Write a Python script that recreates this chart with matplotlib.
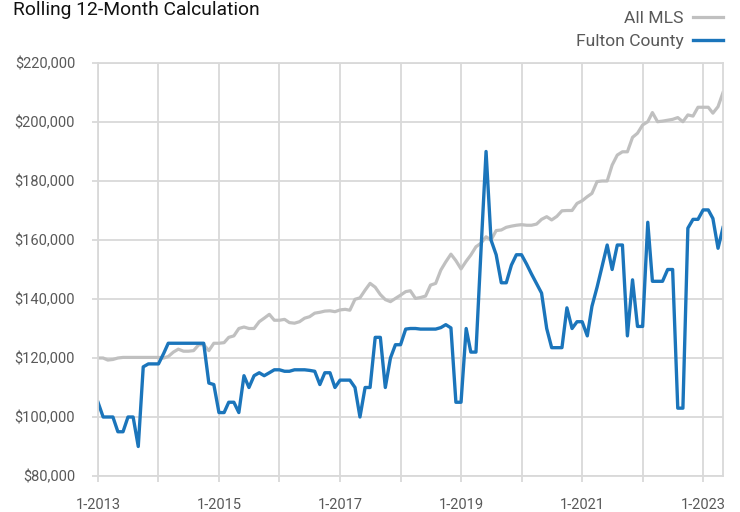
import matplotlib
matplotlib.use("Agg")
import matplotlib.pyplot as plt
import matplotlib.font_manager as fm
import pandas as pd
from matplotlib.ticker import FuncFormatter

# monthly values, Jan 2013 - May 2023
start_month = "2013-01-01"

all_mls = [
    120000, 120000, 119300, 119500, 120000, 120200, 120200, 120200, 120200, 120200, 120200, 120200,
    120200, 120000, 120500, 122000, 123000, 122300, 122300, 122500, 124500, 124500, 122500, 125000,
    125000, 125200, 127000, 127500, 130000, 130500, 130000, 130000, 132300, 133500, 134800, 132800,
    132800, 133100, 132000, 131800, 132300, 133500, 134000, 135200, 135500, 135900, 136000, 135700,
    136300, 136500, 136200, 139900, 140400, 143000, 145300, 144000, 141500, 139800, 139100, 140200,
    141300, 142500, 142800, 140200, 140500, 141000, 144700, 145300, 149800, 152600, 155200, 153000,
    150200, 152800, 154900, 157700, 158900, 161100, 160000, 163200, 163400, 164300, 164700, 165000,
    165200, 165000, 165000, 165400, 167000, 167900, 166800, 168000, 169900, 170000, 170000, 172400,
    173300, 174700, 175800, 179800, 180000, 180000, 185400, 188800, 189900, 189900, 194800, 196200,
    199000, 200100, 203200, 200100, 200300, 200600, 200900, 201500, 200100, 202400, 202000, 205000,
    205000, 205000, 203000, 205200, 210000,
]

fulton = [
    105000, 100000, 100000, 100000, 95000, 95000, 100000, 100000, 90000, 117000, 118000, 118000,
    118000, 121500, 125000, 125000, 125000, 125000, 125000, 125000, 125000, 125000, 111500, 111000,
    101500, 101500, 105000, 105000, 101500, 114000, 110000, 114000, 115000, 114000, 115000, 116000,
    116000, 115500, 115500, 116000, 116000, 116000, 115800, 115500, 111000, 115000, 115000, 110000,
    112500, 112500, 112500, 110000, 100000, 110000, 110000, 127000, 127000, 110000, 120000, 124500,
    124500, 129800, 130000, 130000, 129800, 129800, 129800, 129800, 130300, 131300, 130200, 105000,
    105000, 130000, 122000, 122000, 156000, 190000, 160000, 155000, 145500, 145500, 151500, 155000,
    155000, 151800, 148500, 145200, 142000, 130000, 123500, 123500, 123500, 137000, 130000, 132300,
    132300, 127500, 137500, 144000, 151000, 158300, 150000, 158300, 158300, 127500, 146500, 130700,
    130700, 166000, 146000, 146000, 146000, 150000, 150000, 103000, 103000, 164000, 167000, 167000,
    170200, 170200, 167300, 157200, 164200,
]

y_ticks = [80000, 100000, 120000, 140000, 160000, 180000, 200000, 220000]
x_label_years = [2013, 2015, 2017, 2019, 2021, 2023]

dates = pd.date_range(start_month, periods=len(all_mls), freq="MS")

# font
names = {f.name for f in fm.fontManager.ttflist}
font = ["Liberation Sans Narrow", "Roboto", "DejaVu Sans"]
font = [f for f in font if f in names or f == "DejaVu Sans"]
plt.rcParams["font.family"] = font

grid_col = "#d9d9d9"
text_col = "#595959"

fig = plt.figure(figsize=(7.4, 5.12), dpi=100)
ax = fig.add_axes([98 / 740, 1 - 476 / 512, (723 - 98) / 740, (476 - 63) / 512])

ax.plot(dates, all_mls, color="#c0c0c0", lw=2.3, label="All MLS", solid_joinstyle="round")
ax.plot(dates, fulton, color="#1b75bb", lw=2.4, label="Fulton County", solid_joinstyle="round")

ax.set_xlim(dates[0], dates[-1])
ax.set_ylim(80000, 220000)
ax.set_yticks(y_ticks)
ax.yaxis.set_major_formatter(FuncFormatter(lambda v, p: "${:,.0f}".format(v)))

years = sorted(set(d.year for d in dates))
ax.set_xticks([pd.Timestamp(year=y, month=1, day=1) for y in years])
ax.set_xticklabels(["1-{}".format(y) if y in x_label_years else "" for y in years])

ax.grid(True, color=grid_col, lw=1.3)
ax.set_axisbelow(True)
for s in ax.spines.values():
    s.set_color(grid_col)
    s.set_linewidth(1.3)
ax.tick_params(axis="both", color=grid_col, length=4.5, width=1.3,
               labelcolor=text_col, labelsize=10.5)
ax.tick_params(axis="y", pad=12)
ax.tick_params(axis="x", pad=11)

# title, clipped a little at the top like the original
fig.text(13 / 740, 1 - 15 / 512, "Rolling 12-Month Calculation", fontsize=13.9,
         color="#111111", ha="left", va="baseline")

# legend sits above the plot, right aligned with it
ax.legend(loc="lower right", bbox_to_anchor=(1.0, 1 + 14 / 413), frameon=False,
          markerfirst=False, fontsize=12.6, labelcolor=text_col, handlelength=1.7,
          handletextpad=0.55, labelspacing=0.42, borderaxespad=0.0, borderpad=0.0)

fig.savefig("out.png", dpi=100)
